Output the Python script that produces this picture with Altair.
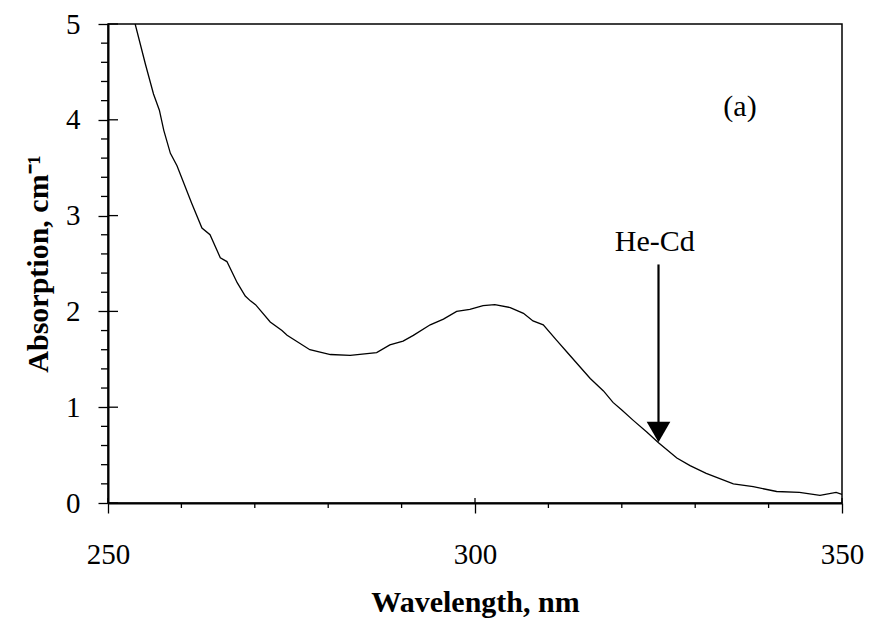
import altair as alt
import pandas as pd

wavelength = [253.7, 255.1, 256.2, 257.0, 257.6, 258.5, 259.4, 261.4, 262.8, 263.9,
              265.3, 266.2, 267.6, 268.7, 269.4, 270.1, 272.1, 273.7, 274.4, 277.5,
              280.3, 283.0, 286.6, 288.4, 290.2, 291.6, 293.9, 295.7, 297.5, 299.3,
              301.1, 302.7, 304.8, 306.6, 307.9, 309.3, 311.1, 312.7, 315.7, 317.5,
              318.8, 320.0, 321.6, 323.4, 325.0, 327.5, 329.3, 331.5, 335.2, 337.9,
              341.1, 344.2, 347.0, 349.2, 350.0]
absorption = [5.0, 4.58, 4.27, 4.10, 3.89, 3.65, 3.52, 3.13, 2.87, 2.80,
              2.56, 2.52, 2.30, 2.16, 2.11, 2.07, 1.89, 1.80, 1.75, 1.60,
              1.55, 1.54, 1.57, 1.65, 1.69, 1.75, 1.86, 1.92, 2.00, 2.02,
              2.06, 2.07, 2.04, 1.98, 1.90, 1.86, 1.70, 1.56, 1.30, 1.17,
              1.05, 0.97, 0.86, 0.74, 0.63, 0.47, 0.39, 0.31, 0.20, 0.17,
              0.12, 0.11, 0.08, 0.11, 0.09]

x_major = [250, 300, 350]
x_minor = [260, 270, 280, 290, 310, 320, 330, 340]
y_major = [0, 1, 2, 3, 4, 5]
y_minor = [0.2, 0.4, 0.6, 0.8, 1.2, 1.4, 1.6, 1.8, 2.2, 2.4, 2.6, 2.8,
           3.2, 3.4, 3.6, 3.8, 4.2, 4.4, 4.6, 4.8]

laser_wl = [325]
arrow_top = [2.49]
arrow_bottom = [0.82]
arrow_head = [0.74]
laser_label = ["He-Cd"]
laser_label_pos = [(324.5, 2.72)]
panel_label = ["(a)"]
panel_label_pos = [(336.1, 4.13)]

W, H = 734, 479
FONT = "Liberation Serif"

df = pd.DataFrame({"wl": wavelength, "a": absorption})

xscale = alt.Scale(domain=[250, 350], nice=False, zero=False)
yscale = alt.Scale(domain=[0, 5], nice=False)

xaxis = alt.Axis(
    values=x_major, title="Wavelength, nm", grid=False, format="d", tickSize=10,
    labelPadding=27, titlePadding=18, labelFlush=False, labelOverlap=False,
)
yaxis = alt.Axis(
    values=y_major, title="Absorption, cm\u207b\u00b9", grid=False, format="d", tickSize=10,
    labelPadding=18, titlePadding=12, labelFlush=False, labelOverlap=False,
)

curve = alt.Chart(df).mark_line(color="black", strokeWidth=1.3, clip=True).encode(
    x=alt.X("wl:Q", scale=xscale, axis=xaxis),
    y=alt.Y("a:Q", scale=yscale, axis=yaxis),
)

yin = alt.Chart(pd.DataFrame({"v": y_major})).mark_rule(color="black", strokeWidth=1.3).encode(
    y=alt.Y("v:Q", scale=yscale), x=alt.value(0), x2=alt.value(10)
)
ymin = alt.Chart(pd.DataFrame({"v": y_minor})).mark_rule(color="black", strokeWidth=1.3).encode(
    y=alt.Y("v:Q", scale=yscale), x=alt.value(-7), x2=alt.value(0)
)
xin = alt.Chart(pd.DataFrame({"v": x_major})).mark_rule(color="black", strokeWidth=1.3).encode(
    x=alt.X("v:Q", scale=xscale), y=alt.value(H), y2=alt.value(H - 5)
)
xmin = alt.Chart(pd.DataFrame({"v": x_minor})).mark_rule(color="black", strokeWidth=1.3).encode(
    x=alt.X("v:Q", scale=xscale), y=alt.value(H), y2=alt.value(H + 5)
)

arrow_df = pd.DataFrame({"wl": laser_wl, "top": arrow_top, "bot": arrow_bottom, "head": arrow_head})
shaft = alt.Chart(arrow_df).mark_rule(color="black", strokeWidth=2.2).encode(
    x=alt.X("wl:Q", scale=xscale), y=alt.Y("top:Q", scale=yscale), y2="bot:Q"
)
head = alt.Chart(arrow_df).mark_point(shape="triangle-down", filled=True, color="black",
                                      size=560, opacity=1).encode(
    x=alt.X("wl:Q", scale=xscale), y=alt.Y("head:Q", scale=yscale)
)

labels_df = pd.DataFrame({
    "t": laser_label + panel_label,
    "x": [laser_label_pos[0][0], panel_label_pos[0][0]],
    "y": [laser_label_pos[0][1], panel_label_pos[0][1]],
})
texts = alt.Chart(labels_df).mark_text(font=FONT, fontSize=30, color="black",
                                       align="center", baseline="middle").encode(
    x=alt.X("x:Q", scale=xscale), y=alt.Y("y:Q", scale=yscale), text="t:N"
)

chart = alt.layer(curve, yin, ymin, xin, xmin, shaft, head, texts).properties(
    width=W, height=H,
    background="white",
    autosize=alt.AutoSizeParams(type="none"),
    padding={"left": 100, "top": 16, "right": 27, "bottom": 126},
).configure_view(
    stroke="black", strokeWidth=1.5
).configure_axis(
    domainColor="black", domainWidth=2, tickColor="black", tickWidth=1.3,
    labelColor="black", titleColor="black",
    labelFont=FONT, labelFontSize=29, titleFont=FONT, titleFontSize=30,
    titleFontWeight="bold",
)

chart.save("out.html", embed_options={"renderer": "svg", "actions": False})
